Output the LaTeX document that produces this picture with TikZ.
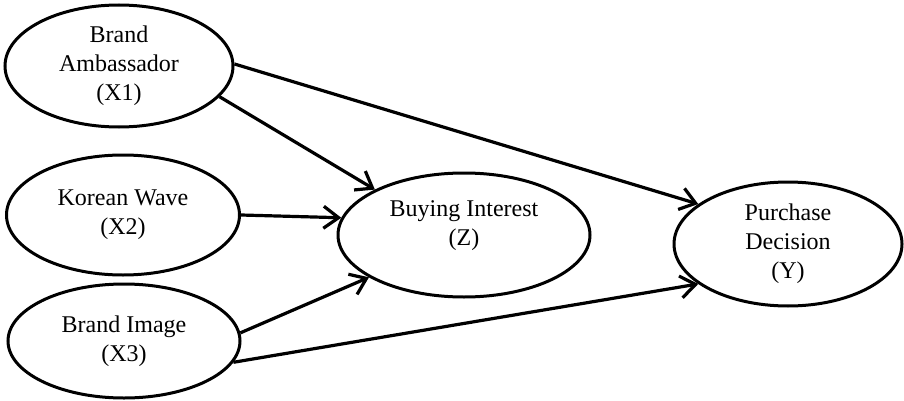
\documentclass[tikz,border=0pt]{standalone}
\usepackage{fontspec}
\setmainfont{Liberation Serif}
\usetikzlibrary{shapes.geometric,arrows.meta}
\begin{document}
\begin{tikzpicture}[x=1pt,y=-1pt,
  var/.style={ellipse,draw,line width=3pt,inner sep=0pt,align=center,
    font=\fontsize{24}{29}\selectfont},
  path/.style={line width=3.2pt,-{Straight Barb[length=15pt,width=22pt,line width=3.2pt]}},
  plain/.style={font=\fontsize{24}{29}\selectfont,align=center,inner sep=0pt}]
\useasboundingbox (0,0) rectangle (904,401);
\node[var,minimum width=228pt,minimum height=122pt] (X1) at (119,66) {Brand\\Ambassador\\(X1)};
\node[var,minimum width=233pt,minimum height=120pt] (X2) at (123,215) {Korean Wave\\(X2)};
\node[var,minimum width=232pt,minimum height=114pt] (X3) at (124,341) {Brand Image\\(X3)};
\node[var,minimum width=252pt,minimum height=124pt] (Z) at (464,235) {};
\node[plain] (Zt) at (464,226) {Buying Interest\\(Z)};
\node[var,minimum width=228pt,minimum height=124pt] (Y) at (788,244) {Purchase\\Decision\\(Y)};
\draw[path] (X1.1) -- (Y.156);
\draw[path] (X1.-17) -- (Z.153);
\draw[path] (X2.0) -- (Z.172);
\draw[path] (X3.4) -- (Z.204);
\draw[path] (X3.-11) -- (Y.204);
\end{tikzpicture}
\end{document}
